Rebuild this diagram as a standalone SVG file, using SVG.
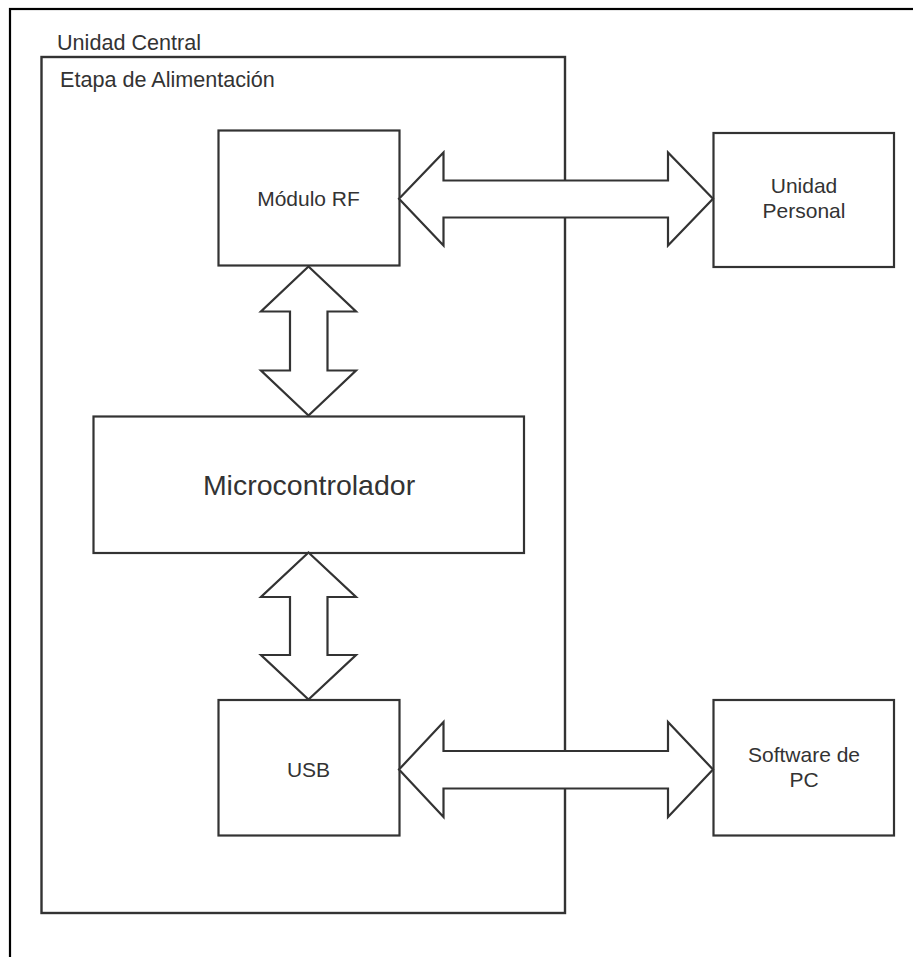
<svg xmlns="http://www.w3.org/2000/svg" width="913" height="957" viewBox="0 0 913 957">
<style>
  .box { fill: #ffffff; stroke: #333333; stroke-width: 2.2; }
  .frame { fill: none; stroke: #333333; stroke-width: 2.4; }
  .arrow { fill: #ffffff; stroke: #333333; stroke-width: 2.2; stroke-linejoin: miter; }
  .t { font-family: "Liberation Sans", Arial, sans-serif; font-size: 21px; fill: #333333; }
  .lbl { font-size: 21.6px; }
  .c { text-anchor: middle; }
  .big { font-size: 28.5px; }
</style>
<rect x="0" y="0" width="913" height="957" fill="#ffffff"/>
<g id="unidad-central">
  <rect x="10" y="9" width="1000" height="1000" fill="none" stroke="#000000" stroke-width="2.2"/>
  <text class="t lbl" x="57" y="50">Unidad Central</text>
</g>
<g id="etapa-alimentacion">
  <rect class="frame" x="41.5" y="57" width="523.5" height="856"/>
  <text class="t lbl" x="60" y="87">Etapa de Alimentación</text>
</g>
<g id="modulo-rf">
  <rect class="box" x="218.5" y="130.5" width="181" height="135"/>
  <text class="t c" x="308.5" y="206">Módulo RF</text>
</g>
<g id="microcontrolador">
  <rect class="box" x="93.5" y="416.5" width="430.5" height="136.5"/>
  <text class="t c big" x="309" y="494.5">Microcontrolador</text>
</g>
<g id="usb">
  <rect class="box" x="218.5" y="700" width="181" height="135.5"/>
  <text class="t c" x="308.5" y="777">USB</text>
</g>
<g id="unidad-personal">
  <rect class="box" x="713.5" y="133" width="180.5" height="134"/>
  <text class="t c" x="804" y="193.3">Unidad</text>
  <text class="t c" x="804" y="218.3">Personal</text>
</g>
<g id="software-pc">
  <rect class="box" x="713.5" y="700" width="180.5" height="135.5"/>
  <text class="t c" x="804" y="762">Software de</text>
  <text class="t c" x="804" y="787">PC</text>
</g>
<g id="connectors">
  <polygon class="arrow" points="399,198.8 443.5,152.5 443.5,180.5 668,180.5 668,152.5 713,198.8 668,245.5 668,217.5 443.5,217.5 443.5,245.5"/>
  <polygon class="arrow" points="399,769.5 443.5,722 443.5,751 668,751 668,722 713,769.5 668,817 668,788.5 443.5,788.5 443.5,817"/>
  <polygon class="arrow" points="308.5,266.5 356,311.5 327.5,311.5 327.5,370.5 356,370.5 308.5,415.5 261,370.5 290,370.5 290,311.5 261,311.5"/>
  <polygon class="arrow" points="308.5,552.5 356,597 327.5,597 327.5,655 356,655 308.5,699.5 261,655 290,655 290,597 261,597"/>
</g>
</svg>
